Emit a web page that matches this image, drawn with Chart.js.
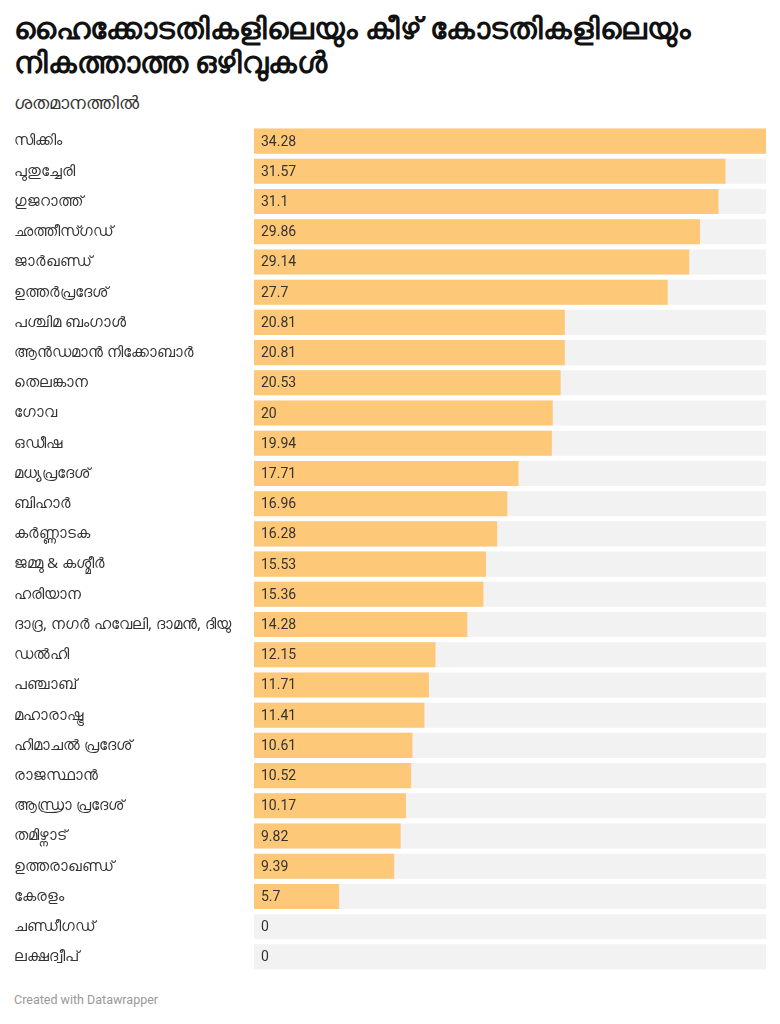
<!DOCTYPE html>
<html>
<head>
<meta charset="utf-8">
<script src="https://cdn.jsdelivr.net/npm/chart.js@4"></script>
<style>
  body { margin: 0; background: #fff; width: 780px; height: 1024px; position: relative; font-family: Roboto, "Noto Sans", sans-serif; }
  h1 { position: absolute; left: 14px; top: 12px; margin: 0; font-size: 29.5px; line-height: 34px; font-weight: 700; color: #111; }
  .sub { position: absolute; left: 14px; top: 92px; font-size: 18px; color: #333; font-weight: 500; }
  .foot { position: absolute; left: 14px; top: 992px; font-size: 12.5px; color: #999; }
  #wrap { position: absolute; left: 0; top: 126px; width: 780px; height: 846px; }
</style>
</head>
<body>
<h1>ഹൈക്കോടതികളിലെയും കീഴ് കോടതികളിലെയും<br>നികത്താത്ത ഒഴിവുകൾ</h1>
<div class="sub">ശതമാനത്തിൽ</div>
<div id="wrap"><canvas id="chart"></canvas></div>
<div class="foot">Created with Datawrapper</div>
<script>
// സംസ്ഥാനങ്ങൾ
const states = [
  "സിക്കിം", "പുതുച്ചേരി", "ഗുജറാത്ത്", "ഛത്തീസ്ഗഡ്", "ജാർഖണ്ഡ്", "ഉത്തർപ്രദേശ്",
  "പശ്ചിമ ബംഗാൾ", "ആൻഡമാൻ നിക്കോബാർ", "തെലങ്കാന", "ഗോവ", "ഒഡീഷ", "മധ്യപ്രദേശ്",
  "ബിഹാർ", "കർണ്ണാടക", "ജമ്മു & കശ്മീർ", "ഹരിയാന", "ദാദ്ര, നഗർ ഹവേലി, ദാമൻ, ദിയു",
  "ഡൽഹി", "പഞ്ചാബ്", "മഹാരാഷ്ട്ര", "ഹിമാചൽ പ്രദേശ്", "രാജസ്ഥാൻ", "ആന്ധ്രാ പ്രദേശ്",
  "തമിഴ്നാട്", "ഉത്തരാഖണ്ഡ്", "കേരളം", "ചണ്ഡീഗഡ്", "ലക്ഷദ്വീപ്"
];
// ഒഴിവുകൾ (%)
const vacancies = [
  34.28, 31.57, 31.1, 29.86, 29.14, 27.7, 20.81, 20.81, 20.53, 20, 19.94, 17.71,
  16.96, 16.28, 15.53, 15.36, 14.28, 12.15, 11.71, 11.41, 10.61, 10.52, 10.17,
  9.82, 9.39, 5.7, 0, 0
];
const maxValue = Math.max(...vacancies);
const track = states.map(() => maxValue); // ചാരനിറ പശ്ചാത്തലം

// ബാറിനുള്ളിൽ മൂല്യം എഴുതാൻ
const valueLabels = {
  id: 'valueLabels',
  afterDatasetsDraw(chart) {
    const ctx = chart.ctx;
    const meta = chart.getDatasetMeta(0);
    ctx.save();
    ctx.font = '14px Roboto, sans-serif';
    ctx.fillStyle = '#333';
    ctx.textBaseline = 'middle';
    meta.data.forEach((bar, i) => {
      ctx.fillText(String(vacancies[i]), bar.base + 7, bar.y + 1);
    });
    ctx.restore();
  }
};

new Chart(document.getElementById('chart'), {
  type: 'bar',
  data: {
    labels: states,
    datasets: [
      { data: vacancies, backgroundColor: '#fdc878', order: 1 },
      { data: track, backgroundColor: '#f2f2f2', order: 2 }
    ]
  },
  options: {
    indexAxis: 'y',
    responsive: true,
    maintainAspectRatio: false,
    animation: false,
    events: [],
    layout: { padding: { left: 14, right: 14, top: 0, bottom: 0 } },
    datasets: { bar: { grouped: false, barPercentage: 0.83, categoryPercentage: 1 } },
    plugins: { legend: { display: false }, tooltip: { enabled: false } },
    scales: {
      x: { display: false, min: 0, max: maxValue },
      y: {
        grid: { display: false },
        border: { display: false },
        afterFit(scale) {
          scale.width = 240;
          scale.paddingTop = 0;
          scale.paddingBottom = 0;
        },
        ticks: {
          crossAlign: 'far',
          padding: 0,
          color: '#333',
          font: { size: 15.2, family: '"Noto Sans", Roboto, sans-serif' }
        }
      }
    }
  },
  plugins: [valueLabels]
});
</script>
</body>
</html>
